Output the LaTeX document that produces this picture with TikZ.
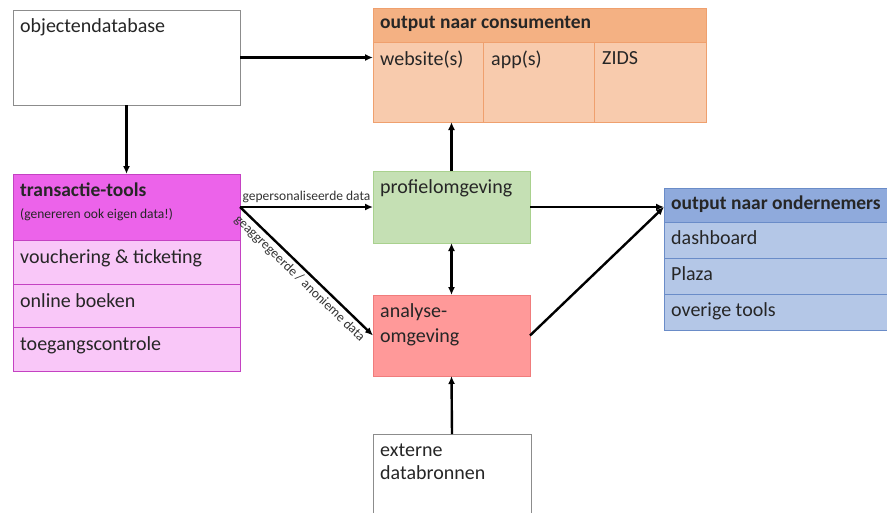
\documentclass[tikz,border=0pt]{standalone}
\usepackage{fontspec}
\setmainfont{Carlito}
\usetikzlibrary{arrows.meta}
\definecolor{graybd}{HTML}{8C8C8C}
\definecolor{magH}{HTML}{EC63EA}
\definecolor{magR}{HTML}{F9C7F8}
\definecolor{magB}{HTML}{C442C2}
\definecolor{orH}{HTML}{F4B183}
\definecolor{orR}{HTML}{F8CBAD}
\definecolor{orB}{HTML}{EFA06E}
\definecolor{grF}{HTML}{C5E0B4}
\definecolor{grB}{HTML}{A9D18E}
\definecolor{rdF}{HTML}{FF9999}
\definecolor{rdB}{HTML}{F07C7C}
\definecolor{blH}{HTML}{8FAADC}
\definecolor{blR}{HTML}{B4C7E7}
\definecolor{blB}{HTML}{6A8CC8}
\begin{document}
\begin{tikzpicture}[x=1pt,y=-1pt,
  box/.style={rectangle, anchor=north west, inner sep=0pt, outer sep=0pt, line width=1pt},
  txt/.style={anchor=north west, inner sep=0pt, font=\fontsize{20}{24}\selectfont, align=left, text=black!85},
  hdr/.style={txt, font=\fontsize{19.5}{24}\selectfont\bfseries},
  arr/.style={line width=2.4pt, -{Latex[length=8pt,width=7pt]}},
  small/.style={font=\fontsize{13.5}{15}\selectfont, text=black!80, inner sep=3pt}
]
\useasboundingbox (0,0) rectangle (887,512);

% objectendatabase
\node[box, draw=graybd, fill=white, minimum width=227pt, minimum height=95pt] (obj) at (13,10) {};
\node[txt] at ([shift={(7pt,-8pt)}]obj.north west) {objectendatabase};

% transactie-tools
\node[box, draw=magB, fill=magH, minimum width=227pt, minimum height=66pt] (trh) at (13,174) {};
\node[box, draw=magB, fill=magR, minimum width=227pt, minimum height=44pt] (tr1) at (13,240) {};
\node[box, draw=magB, fill=magR, minimum width=227pt, minimum height=43pt] (tr2) at (13,284) {};
\node[box, draw=magB, fill=magR, minimum width=227pt, minimum height=44pt] (tr3) at (13,327) {};
\node[hdr] at ([shift={(7pt,-9pt)}]trh.north west) {transactie-tools};
\node[txt, font=\fontsize{13.5}{15}\selectfont] at ([shift={(7pt,-34pt)}]trh.north west) {(genereren ook eigen data!)};
\node[txt] at ([shift={(7pt,-9pt)}]tr1.north west) {vouchering \& ticketing};
\node[txt] at ([shift={(7pt,-9pt)}]tr2.north west) {online boeken};
\node[txt] at ([shift={(7pt,-9pt)}]tr3.north west) {toegangscontrole};

% output naar consumenten
\node[box, draw=orB, fill=orH, minimum width=333pt, minimum height=34pt] (ch) at (373,8) {};
\node[box, draw=orB, fill=orR, minimum width=110pt, minimum height=80pt] (c1) at (373,42) {};
\node[box, draw=orB, fill=orR, minimum width=111pt, minimum height=80pt] (c2) at (483,42) {};
\node[box, draw=orB, fill=orR, minimum width=112pt, minimum height=80pt] (c3) at (594,42) {};
\node[hdr] at ([shift={(7pt,-8pt)}]ch.north west) {output naar consumenten};
\node[txt] at ([shift={(7pt,-9pt)}]c1.north west) {website(s)};
\node[txt] at ([shift={(8pt,-9pt)}]c2.north west) {app(s)};
\node[txt] at ([shift={(8pt,-9pt)}]c3.north west) {ZIDS};

% profielomgeving
\node[box, draw=grB, fill=grF, minimum width=157pt, minimum height=72pt] (prof) at (373,171) {};
\node[txt] at ([shift={(7pt,-8pt)}]prof.north west) {profielomgeving};

% analyse-omgeving
\node[box, draw=rdB, fill=rdF, minimum width=157pt, minimum height=81pt] (ana) at (373,295) {};
\node[txt, font=\fontsize{20}{25}\selectfont] at ([shift={(7pt,-8pt)}]ana.north west) {analyse-\\omgeving};

% externe databronnen
\node[box, draw=graybd, fill=white, minimum width=158pt, minimum height=90pt] (ext) at (373,434) {};
\node[txt, font=\fontsize{20}{23}\selectfont] at ([shift={(7pt,-10pt)}]ext.north west) {externe\\databronnen};

% output naar ondernemers
\node[box, draw=blB, fill=blH, minimum width=230pt, minimum height=34pt] (oh) at (664,188) {};
\node[box, draw=blB, fill=blR, minimum width=230pt, minimum height=36pt] (o1) at (664,222) {};
\node[box, draw=blB, fill=blR, minimum width=230pt, minimum height=36pt] (o2) at (664,258) {};
\node[box, draw=blB, fill=blR, minimum width=230pt, minimum height=36pt] (o3) at (664,294) {};
\node[hdr] at ([shift={(7pt,-8pt)}]oh.north west) {output naar ondernemers};
\node[txt] at ([shift={(7pt,-8pt)}]o1.north west) {dashboard};
\node[txt] at ([shift={(7pt,-8pt)}]o2.north west) {Plaza};
\node[txt] at ([shift={(7pt,-8pt)}]o3.north west) {overige tools};

% connectors
\draw[arr] (obj.east) -- (obj.east -| c1.west);
\draw[arr] (obj.south) -- (trh.north);
\draw[arr] (trh.east) -- node[small, above, pos=0.5] {gepersonaliseerde data} (trh.east -| prof.west);
\draw[arr] (trh.east) -- node[small, below, sloped, pos=0.5] {geaggregeerde / anonieme data} (ana.west);
\draw[arr] (prof.north) -- (prof.north |- c1.south);
\draw[line width=2.4pt, {Latex[length=8pt,width=7pt]}-{Latex[length=8pt,width=7pt]}] (prof.south) -- (ana.north);
\draw[arr] (ext.north) -- (ana.south);
\coordinate (oin) at (prof.east -| oh.west);
\draw[arr] (prof.east) -- (oin);
\draw[arr] (ana.east) -- (oin);
\end{tikzpicture}
\end{document}
